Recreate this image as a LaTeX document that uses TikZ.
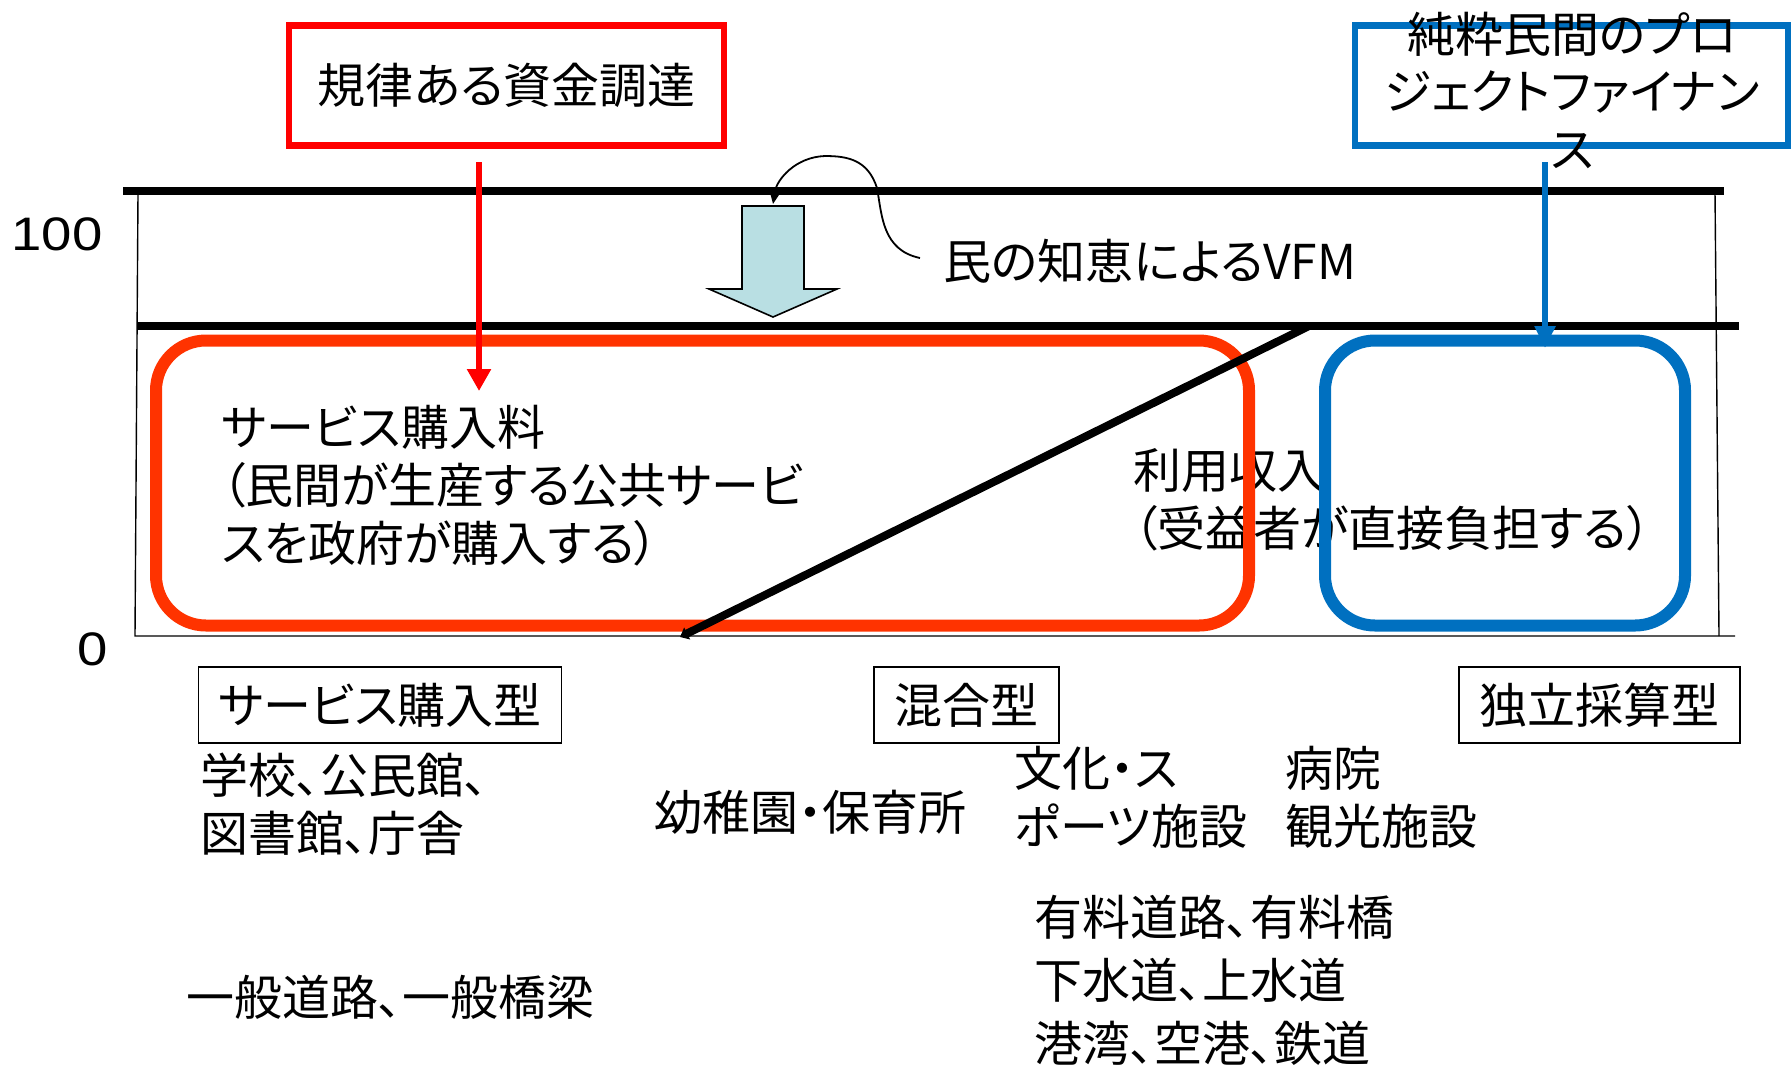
\documentclass[tikz,border=0pt]{standalone}
\usepackage{fontspec}
\setmainfont{Noto Sans CJK JP}[RawFeature=+palt]
\newfontfamily\numfont{Liberation Sans}
\usetikzlibrary{arrows.meta}
\definecolor{redbox}{HTML}{FF0000}
\definecolor{redrect}{HTML}{FF3300}
\definecolor{bluec}{HTML}{0070C0}
\definecolor{arrowfill}{HTML}{B9DFE3}
\tikzset{
  txt/.style={inner sep=0pt, anchor=west, align=left, font=\fontsize{24}{29}\selectfont},
  topbox/.style={draw=#1, line width=3.2pt, minimum width=217.5pt, minimum height=60pt, inner sep=0pt, font=\fontsize{24}{29}\selectfont},
  catbox/.style={draw=black, line width=0.9pt, minimum height=38pt, inner sep=0pt, font=\fontsize{24}{29}\selectfont},
  thickline/.style={line width=4pt},
  thinline/.style={line width=0.7pt},
  roundbox/.style={draw=#1, line width=6pt, rounded corners=25pt},
}
\begin{document}
\begin{tikzpicture}[x=0.5pt,y=-0.5pt]
\useasboundingbox (0,0) rectangle (1791,1067);

% axis frame
\draw[thinline] (138,194) -- (135,636) -- (1735,636);
\draw[thinline] (1715,194) -- (1719,636);
\draw[thickline] (123,190.5) -- (1724,190.5);
\draw[thickline] (138,325.5) -- (1739,325.5);

% axis labels
\node[inner sep=0pt, anchor=west, font=\numfont\fontsize{23.5}{28}\selectfont] (l100) at (11,234) {\scalebox{1.16}[1]{100}};
\node[inner sep=0pt, anchor=west, font=\numfont\fontsize{23.5}{28}\selectfont] (l0) at (77,649) {\scalebox{1.16}[1]{0}};

% block arrow (VFM)
\draw[fill=arrowfill, draw=black, line width=0.8pt] (742,206) -- (804,206) -- (804,289) -- (837,289) -- (773,317) -- (709,289) -- (742,289) -- cycle;
\coordinate (blocktop) at (773,204);

% VFM label and curved connector
\node[txt] (vfm) at (943,261) {民の知恵によるVFM};
\coordinate (vfmstart) at (920,258);
\draw[line width=0.9pt, -{Triangle[length=7pt,width=6pt]}] (vfmstart) .. controls (882,250) and (882,215) .. (877,188) .. controls (868,160) and (848,156) .. (825,156) .. controls (795,157) and (777,180) .. (blocktop);

% text inside
\node[txt] (svc) at (221,486) {サービス購入料\\（民間が生産する公共サービ\\スを政府が購入する）};
\node[txt] (use) at (1133,499.5) {利用収入\\（受益者が直接負担する）};

% diagonal
\coordinate (dtop) at (1309,326);
\coordinate (dbot) at (680,637);

% rounded regions
\draw[roundbox=redrect] (156,340.5) rectangle (1249,625.5);
\draw[roundbox=bluec] (1325,340.5) rectangle (1685,625.5);

\draw[line width=4pt, -{Triangle[length=4pt,width=6.5pt]}] (dtop) -- (dbot);

% top boxes
\node[topbox=redbox] (fund) at (506.5,85.5) {規律ある資金調達};
\node[topbox=bluec, minimum width=216.5pt] (pfibox) at (1571.5,85.5) {};
\node[inner sep=0pt, align=center, font=\fontsize{24}{28.75}\selectfont] (pfi) at (1572,90) {純粋民間のプロ\\ジェクトファイナン\\ス};

% arrows from top boxes
\coordinate (ra1) at (479,162);
\coordinate (ra2) at (479,391);
\draw[redbox, line width=2.9pt, -{Triangle[length=11pt,width=11.5pt]}] (ra1) -- (ra2);
\coordinate (ba1) at (1545,162);
\coordinate (ba2) at (1545,348);
\draw[bluec, line width=2.9pt, -{Triangle[length=11pt,width=10pt]}] (ba1) -- (ba2);

% category boxes
\node[catbox, minimum width=181.5pt] (c1) at (380,705) {サービス購入型};
\node[catbox, minimum width=92.5pt] (c2) at (966.5,705) {混合型};
\node[catbox, minimum width=140.5pt] (c3) at (1599.5,705) {独立採算型};

% examples
\node[txt] (e1) at (200,804.5) {学校、公民館、\\図書館、庁舎};
\node[txt] (e2) at (654,812) {幼稚園・保育所};
\node[txt] (e3) at (1014,797) {文化・ス\\ポーツ施設};
\node[txt] (e4) at (1285,797) {病院\\観光施設};
\node[txt, font=\fontsize{24}{31.5}\selectfont] (e5) at (1034,980.5) {有料道路、有料橋\\下水道、上水道\\港湾、空港、鉄道};
\node[txt] (e6) at (186,997) {一般道路、一般橋梁};
\end{tikzpicture}
\end{document}
